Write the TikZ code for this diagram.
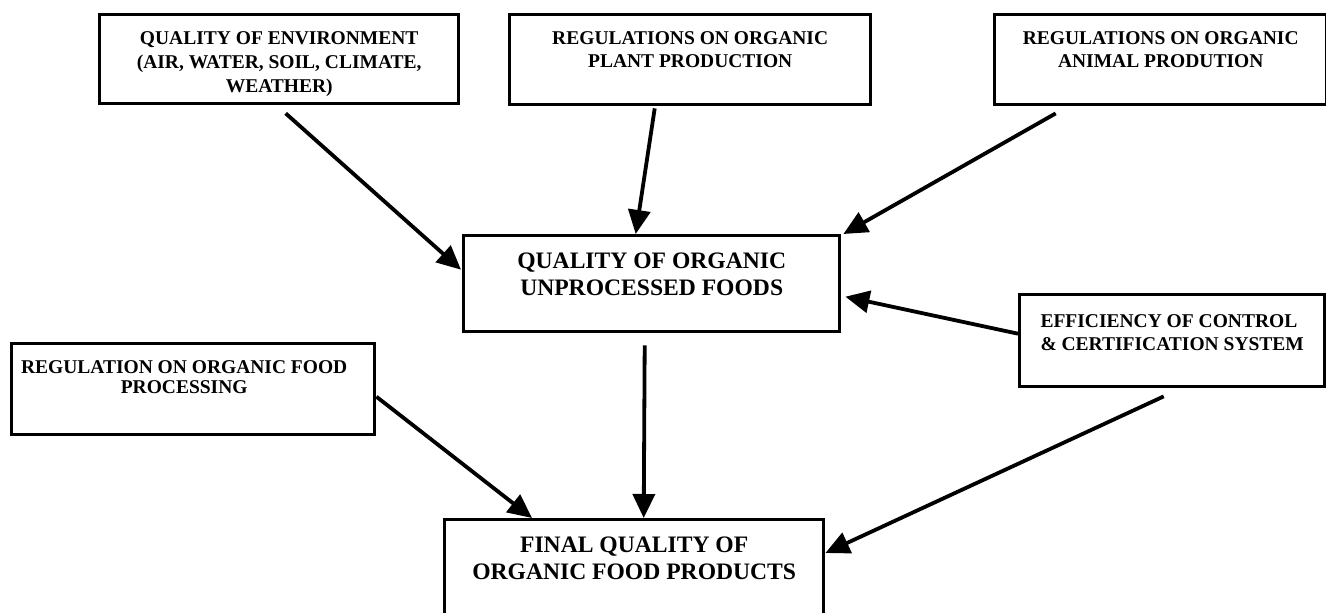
\documentclass[tikz,border=0pt]{standalone}
\usepackage{fontspec}
\setmainfont{Liberation Serif}
\usetikzlibrary{arrows.meta}

\newcommand{\factortext}[3]{\parbox[c][#2][t]{#1}{\centering\vspace*{8.5pt}#3}}

\begin{document}
\begin{tikzpicture}[x=0.5pt,y=-0.5pt,
  factor/.style={draw,line width=1.7pt,inner sep=0pt,anchor=north west},
  small/.style={font=\bfseries\fontsize{9.75}{11.5}\selectfont},
  large/.style={font=\bfseries\fontsize{11.8}{13.5}\selectfont},
  feed/.style={line width=1.9pt,-{Triangle[length=12pt,width=11pt]}}]
\useasboundingbox (0,0) rectangle (1326,613);

\node (env) [factor,small,font=\bfseries\fontsize{9.75}{12}\selectfont] at (98,13) {\factortext{179.5pt}{44.5pt}{QUALITY OF ENVIRONMENT\\
  (AIR, WATER, SOIL, CLIMATE,\\
  WEATHER)}};
\node (plant) [factor,small] at (508,13) {\factortext{180.5pt}{45pt}{REGULATIONS ON ORGANIC\\
  PLANT PRODUCTION}};
\node (animal) [factor,small] at (993,13) {\factortext{166pt}{45pt}{REGULATIONS ON ORGANIC\\
  ANIMAL PRODUTION}};
\node (mid) [factor,large] at (462,234) {\factortext{188pt}{48pt}{QUALITY OF ORGANIC\\
  UNPROCESSED FOODS}};
\node (proc) [factor,font=\bfseries\fontsize{9.75}{10}\selectfont] at (10,342) {\factortext{181.5pt}{45.5pt}{\hspace*{-9pt}REGULATION ON ORGANIC FOOD\\
  \hspace*{-9pt}PROCESSING}};
\node (eff) [factor,small] at (1018,293) {\factortext{152.5pt}{46pt}{\begin{tabular}{@{}l@{}}
  EFFICIENCY OF CONTROL\\
  \& CERTIFICATION SYSTEM
\end{tabular}}};
\node (final) [factor,large] at (443,518) {\factortext{189.5pt}{60pt}{FINAL QUALITY OF\\
  ORGANIC FOOD PRODUCTS}};

% into the unprocessed foods
\draw [feed] ([shift={(6.5,8)}]env.south) -- ([shift={(-1,-14)}]mid.west);
\draw [feed] ([shift={(-35.5,2)}]plant.south) -- ([shift={(-16,0)}]mid.north);
\draw [feed] ([shift={(-105,7)}]animal.south) -- ([shift={(2,0)}]mid.north east);
\draw [feed] ([shift={(0,-7)}]eff.west) -- ([shift={(4,13)}]mid.east);

% into the final products
\draw [feed] ([shift={(-7,12)}]mid.south) -- ([shift={(9.5,0)}]final.north);
\draw [feed] ([shift={(0,7.5)}]proc.east) -- ([shift={(89,0)}]final.north west);
\draw [feed] ([shift={(-8.5,8)}]eff.south) -- ([shift={(0,35)}]final.north east);
\end{tikzpicture}
\end{document}
